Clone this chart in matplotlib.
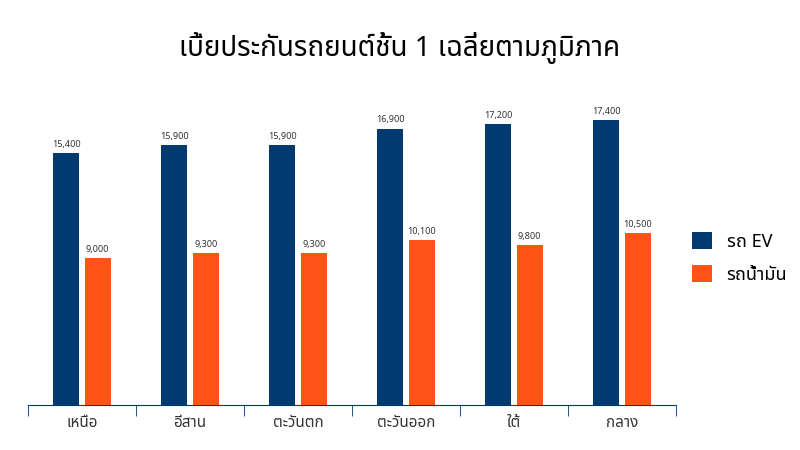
import matplotlib.pyplot as plt
import numpy as np
from matplotlib import font_manager

regions = ['เหนือ', 'อีสาน', 'ตะวันตก', 'ตะวันออก', 'ใต้', 'กลาง']
ev = [15400, 15900, 15900, 16900, 17200, 17400]
oil = [9000, 9300, 9300, 10100, 9800, 10500]
title = 'เบี้ยประกันรถยนต์ชั้น 1 เฉลี่ยตามภูมิภาค'

names = {f.name for f in font_manager.fontManager.ttflist}
fams = [f for f in ['Noto Sans Thai', 'Noto Sans Thai UI', 'Loma', 'Garuda', 'Noto Sans', 'DejaVu Sans'] if f in names]
plt.rcParams['font.family'] = fams

blue = '#003A70'
orange = '#FF5416'

fig = plt.figure(figsize=(8, 4.5), dpi=100)
ax = fig.add_axes([0.035, 0.1, 0.81, 0.727])
x = np.arange(len(regions))
w = 0.24
b1 = ax.bar(x - 0.145, ev, w, color=blue, label='รถ EV')
b2 = ax.bar(x + 0.145, oil, w, color=orange, label='รถน้ำมัน')
for bars in (b1, b2):
    for r in bars:
        ax.text(r.get_x() + r.get_width() / 2, r.get_height() + 250, f'{int(r.get_height()):,}',
                ha='center', va='bottom', fontsize=6.5, color='#333333')

ax.set_xlim(-0.5, len(regions) - 0.5)
ax.set_ylim(0, 20000)
for s in ['top', 'right', 'left']:
    ax.spines[s].set_visible(False)
ax.spines['bottom'].set_color(blue)
ax.set_yticks([])
ax.set_xticks(np.arange(len(regions) + 1) - 0.5, minor=True)
ax.tick_params(axis='x', which='minor', length=8, color=blue, direction='out')
ax.tick_params(axis='x', which='major', length=0, pad=8)
ax.set_xticks(x)
ax.set_xticklabels(regions, fontsize=11, color='#333333')

fig.text(0.5, 0.875, title, ha='center', fontsize=20, color='black')
ax.legend(loc='center left', bbox_to_anchor=(1.0, 0.45), frameon=False, fontsize=13,
          handlelength=1.1, handleheight=1.1, labelspacing=0.8)
fig.savefig('out.png', dpi=100)
